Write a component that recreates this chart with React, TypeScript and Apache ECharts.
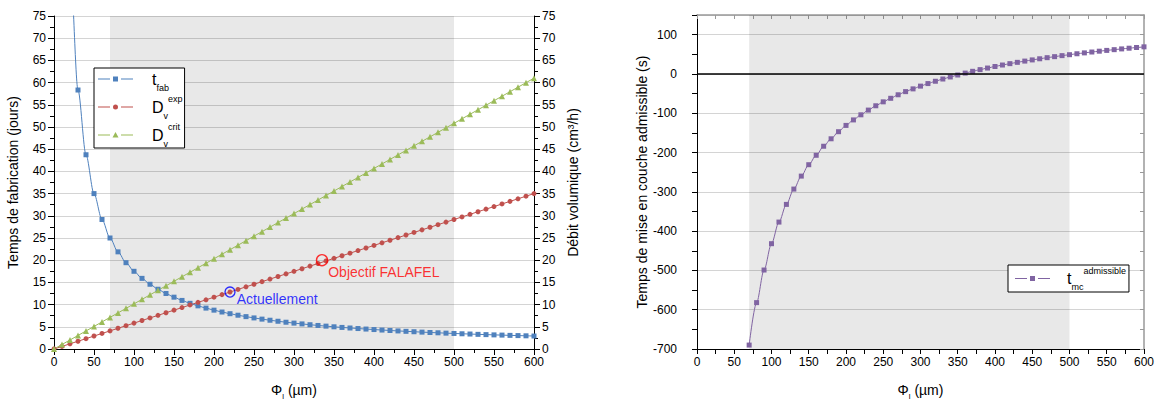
import React, { useEffect, useRef } from 'react';
import * as echarts from 'echarts';

// Φl (µm), step 10
const phi = [0, 10, 20, 30, 40, 50, 60, 70, 80, 90, 100, 110, 120, 130, 140, 150, 160, 170, 180, 190, 200, 210, 220, 230, 240, 250, 260, 270, 280, 290, 300, 310, 320, 330, 340, 350, 360, 370, 380, 390, 400, 410, 420, 430, 440, 450, 460, 470, 480, 490, 500, 510, 520, 530, 540, 550, 560, 570, 580, 590, 600];

// t_fab (jours), for Φl = 10 ... 600
const tFab = [175, 87.5, 58.33, 43.75, 35, 29.17, 25, 21.88, 19.44, 17.5, 15.91, 14.58, 13.46, 12.5, 11.67, 10.94, 10.29, 9.72, 9.21, 8.75, 8.33, 7.95, 7.61, 7.29, 7, 6.73, 6.48, 6.25, 6.03, 5.83, 5.65, 5.47, 5.3, 5.15, 5, 4.86, 4.73, 4.61, 4.49, 4.38, 4.27, 4.17, 4.07, 3.98, 3.89, 3.8, 3.72, 3.65, 3.57, 3.5, 3.43, 3.37, 3.3, 3.24, 3.18, 3.13, 3.07, 3.02, 2.97, 2.92];

// D_v^exp (cm3/h), for Φl = 0 ... 600
const dExp = [0, 0.58, 1.17, 1.75, 2.33, 2.92, 3.5, 4.08, 4.67, 5.25, 5.83, 6.42, 7, 7.58, 8.17, 8.75, 9.33, 9.92, 10.5, 11.08, 11.67, 12.25, 12.83, 13.42, 14, 14.58, 15.17, 15.75, 16.33, 16.92, 17.5, 18.08, 18.67, 19.25, 19.83, 20.42, 21, 21.58, 22.17, 22.75, 23.33, 23.92, 24.5, 25.08, 25.67, 26.25, 26.83, 27.42, 28, 28.58, 29.17, 29.75, 30.33, 30.92, 31.5, 32.08, 32.67, 33.25, 33.83, 34.42, 35];

// D_v^crit (cm3/h), for Φl = 0 ... 600
const dCrit = [0, 1.02, 2.03, 3.05, 4.07, 5.08, 6.1, 7.12, 8.13, 9.15, 10.17, 11.18, 12.2, 13.22, 14.23, 15.25, 16.27, 17.28, 18.3, 19.32, 20.33, 21.35, 22.37, 23.38, 24.4, 25.42, 26.43, 27.45, 28.47, 29.48, 30.5, 31.52, 32.53, 33.55, 34.57, 35.58, 36.6, 37.62, 38.63, 39.65, 40.67, 41.68, 42.7, 43.72, 44.73, 45.75, 46.77, 47.78, 48.8, 49.82, 50.83, 51.85, 52.87, 53.88, 54.9, 55.92, 56.93, 57.95, 58.97, 59.98, 61];

// t_mc^admissible (s), for Φl = 70 ... 600
const tMc = [-690, -582, -499, -432, -377, -332, -293, -260, -231, -207, -184, -165, -147, -131, -117, -104, -92, -81, -71, -62, -53, -45, -38, -31, -24.5, -18.6, -12.9, -7.7, -2.7, 2.2, 6.7, 11, 15, 19, 22.7, 26.2, 29.5, 32.7, 35.7, 38.6, 41.4, 44, 46.6, 49, 51.4, 53.6, 55.8, 57.9, 59.9, 61.8, 63.7, 65.5, 67.3, 69];

// shaded range of Φl
const shadedRange = [70, 500];

// annotated points [Φl, D]
const currentPoint = [220, 12.83];
const targetPoint = [335, 20];

const FONT = 'Arial, "Liberation Sans", sans-serif';

// legend icons: line broken around the marker
const ICON_BOX = 'M0,0L0,0ZM35,9L35,9Z';
const ICON_LINES = 'M0,4H12V5H0ZM23,4H35V5H23Z';
const iconSquare = 'path://' + ICON_BOX + ICON_LINES + 'M15,2H20V7H15Z';
const iconCircle = 'path://' + ICON_BOX + ICON_LINES + 'M15,4.5A2.5,2.5,0,1,0,20,4.5A2.5,2.5,0,1,0,15,4.5Z';
const iconTriangle = 'path://' + ICON_BOX + ICON_LINES + 'M17.5,1.5L20.5,7H14.5Z';

export default function App() {
  const ref = useRef<HTMLDivElement>(null);

  useEffect(() => {
    document.documentElement.style.overflow = 'hidden';
    document.body.style.margin = '0';
    document.body.style.overflow = 'hidden';
    if (!ref.current) return;
    const chart = echarts.init(ref.current, undefined, { renderer: 'svg', width: 1157, height: 405 });

    const fabPhi = phi.slice(1);
    const mcPhi = phi.slice(phi.indexOf(70));

    const tickLabel = { fontSize: 12, color: '#000', fontFamily: FONT };
    const black = { lineStyle: { color: '#000', width: 1 } };
    const nameStyle = { fontSize: 14, color: '#000', fontFamily: FONT };
    const xName = '{a|Φ}{s|l}{a| (µm)}';
    const xNameStyle = {
      ...nameStyle,
      rich: {
        a: { fontSize: 14, fontFamily: FONT, color: '#000', lineHeight: 20 },
        s: { fontSize: 8, fontFamily: FONT, color: '#000', verticalAlign: 'bottom', lineHeight: 10 },
      },
    };

    const legendRich = {
      m: { fontSize: 16, fontFamily: FONT, color: '#000', lineHeight: 26, padding: [0, 0, 0, 14] },
      s: { fontSize: 9, fontFamily: FONT, color: '#000', verticalAlign: 'bottom', lineHeight: 10 },
      p: { fontSize: 9, fontFamily: FONT, color: '#000', verticalAlign: 'top', lineHeight: 14 },
    };
    const legendRich2 = {
      m: { ...legendRich.m, lineHeight: 25, padding: [0, 0, 0, 12] },
      s: legendRich.s,
      p: legendRich.p,
    };

    const legendLabels: Record<string, string> = {
      tfab: '{m|t}{s|fab}',
      dexp: '{m|D}{s|v}{p|exp}',
      dcrit: '{m|D}{s|v}{p|crit}',
      tmc: '{m|t}{s|mc}{p|admissible}',
    };

    const option: any = {
      animation: false,
      textStyle: { fontFamily: FONT },
      grid: [
        { left: 54, top: 16, width: 480, height: 339 },
        { left: 697, top: 15, width: 450, height: 336.5 },
      ],
      legend: [
        {
          data: [
            { name: 'tfab', icon: iconSquare },
            { name: 'dexp', icon: iconCircle },
            { name: 'dcrit', icon: iconTriangle },
          ],
          orient: 'vertical',
          left: 94,
          top: 68,
          padding: [3, 2, 0, 4],
          itemGap: 2,
          itemWidth: 35,
          itemHeight: 9,
          itemStyle: { borderWidth: 0 },
          backgroundColor: '#fff',
          borderColor: '#000',
          borderWidth: 1,
          selectedMode: false,
          formatter: (n: string) => legendLabels[n],
          textStyle: { rich: legendRich },
        },
        {
          data: [{ name: 'tmc', icon: iconSquare }],
          orient: 'vertical',
          left: 1008,
          top: 265,
          padding: [1, 3, 1, 7],
          itemWidth: 35,
          itemHeight: 9,
          itemStyle: { borderWidth: 0 },
          backgroundColor: '#fff',
          borderColor: '#000',
          borderWidth: 1,
          selectedMode: false,
          formatter: (n: string) => legendLabels[n],
          textStyle: { rich: legendRich2 },
        },
      ],
      xAxis: [
        {
          gridIndex: 0, type: 'value', min: 0, max: 600, interval: 50,
          axisLine: { onZero: false, ...black },
          axisTick: { show: true, length: 6, ...black },
          minorTick: { show: true, splitNumber: 2, length: 4, ...black },
          splitLine: { show: false },
          axisLabel: { ...tickLabel, margin: 7 },
          name: xName, nameLocation: 'middle', nameGap: 31, nameTextStyle: xNameStyle,
        },
        {
          gridIndex: 1, type: 'value', min: 0, max: 600, interval: 50,
          axisLine: { onZero: false, ...black },
          axisTick: { show: true, length: 5, ...black },
          minorTick: { show: true, splitNumber: 2, length: 5, ...black },
          splitLine: { show: false },
          axisLabel: { ...tickLabel, margin: 7 },
          name: xName, nameLocation: 'middle', nameGap: 31, nameTextStyle: xNameStyle,
        },
        {
          gridIndex: 1, type: 'value', min: 0, max: 600, interval: 25, position: 'top',
          axisLine: { onZero: false, lineStyle: { color: '#999', width: 1.5 } },
          axisTick: { show: true, inside: true, length: 4, lineStyle: { color: '#999' } },
          splitLine: { show: false },
          axisLabel: { show: false },
        },
      ],
      yAxis: [
        {
          gridIndex: 0, type: 'value', min: 0, max: 75, interval: 5, position: 'left',
          axisLine: { show: true, onZero: false, ...black },
          axisTick: { show: true, length: 6, ...black },
          minorTick: { show: true, splitNumber: 2, length: 4, ...black },
          splitLine: { show: true, lineStyle: { color: '#d4d4d4', width: 1 } },
          axisLabel: { ...tickLabel, margin: 8 },
          name: 'Temps de fabrication (jours)', nameLocation: 'middle', nameGap: 34,
          nameTextStyle: nameStyle,
        },
        {
          gridIndex: 0, type: 'value', min: 0, max: 75, interval: 5, position: 'right',
          axisLine: { show: true, onZero: false, ...black },
          axisTick: { show: true, length: 6, ...black },
          minorTick: { show: true, splitNumber: 2, length: 4, ...black },
          splitLine: { show: false },
          axisLabel: { ...tickLabel, margin: 8 },
          name: 'Débit volumique (cm³/h)', nameLocation: 'middle', nameGap: 32,
          nameRotate: 90,
          nameTextStyle: nameStyle,
        },
        {
          gridIndex: 1, type: 'value', min: -700, max: 150, interval: 100, position: 'left',
          axisLine: { show: true, onZero: false, ...black },
          axisTick: { show: true, length: 5, ...black },
          minorTick: { show: true, splitNumber: 2, length: 5, ...black },
          splitLine: { show: true, lineStyle: { color: '#d4d4d4', width: 1 } },
          axisLabel: { ...tickLabel, margin: 20, showMaxLabel: false },
          name: 'Temps de mise en couche admissible (s)', nameLocation: 'middle', nameGap: 43,
          nameTextStyle: nameStyle,
        },
        {
          gridIndex: 1, type: 'value', min: -700, max: 150, interval: 50, position: 'right',
          axisLine: { show: true, onZero: false, lineStyle: { color: '#999', width: 1.5 } },
          axisTick: { show: true, inside: true, length: 4, lineStyle: { color: '#999' } },
          splitLine: { show: false },
          axisLabel: { show: false },
        },
      ],
      series: [
        {
          name: 'shadeLeft', type: 'line', xAxisIndex: 0, yAxisIndex: 0, data: [], z: 1,
          markArea: {
            silent: true,
            itemStyle: { color: 'rgba(0,0,0,0.09)' },
            data: [[{ xAxis: shadedRange[0] }, { xAxis: shadedRange[1] }]],
          },
        },
        {
          name: 'shadeRight', type: 'line', xAxisIndex: 1, yAxisIndex: 2, data: [], z: 1,
          markArea: {
            silent: true,
            itemStyle: { color: 'rgba(0,0,0,0.09)' },
            data: [[{ xAxis: shadedRange[0] }, { xAxis: shadedRange[1] }]],
          },
          markLine: {
            silent: true,
            symbol: 'none',
            label: { show: false },
            lineStyle: { color: '#000', width: 1.5, type: 'solid' },
            data: [{ yAxis: 0 }],
          },
        },
        {
          name: 'tfab', type: 'line', xAxisIndex: 0, yAxisIndex: 0, z: 3,
          data: fabPhi.map((x, i) => [x, tFab[i]]),
          smooth: 0.3, smoothMonotone: 'x',
          symbol: 'rect', symbolSize: 5,
          itemStyle: { color: '#4f81bd' },
          lineStyle: { color: '#4f81bd', width: 1 },
        },
        {
          name: 'dexp', type: 'line', xAxisIndex: 0, yAxisIndex: 1, z: 3,
          data: phi.map((x, i) => [x, dExp[i]]),
          symbol: 'circle', symbolSize: 5,
          itemStyle: { color: '#c0504d' },
          lineStyle: { color: '#c0504d', width: 1 },
        },
        {
          name: 'dcrit', type: 'line', xAxisIndex: 0, yAxisIndex: 1, z: 3,
          data: phi.map((x, i) => [x, dCrit[i]]),
          symbol: 'triangle', symbolSize: 6,
          itemStyle: { color: '#9bbb59' },
          lineStyle: { color: '#9bbb59', width: 1 },
        },
        {
          name: 'actuel', type: 'scatter', xAxisIndex: 0, yAxisIndex: 1, z: 4,
          data: [currentPoint],
          symbol: 'circle', symbolSize: 10,
          itemStyle: { color: 'rgba(0,0,0,0)', borderColor: '#0000ff', borderWidth: 1.4 },
          label: {
            show: true, position: 'right', distance: 1, offset: [0, 7],
            formatter: 'Actuellement', color: '#0000ff', fontSize: 14, fontFamily: FONT,
          },
        },
        {
          name: 'objectif', type: 'scatter', xAxisIndex: 0, yAxisIndex: 1, z: 4,
          data: [targetPoint],
          symbol: 'circle', symbolSize: 11,
          itemStyle: { color: 'rgba(0,0,0,0)', borderColor: '#ff0000', borderWidth: 1.4 },
          label: {
            show: true, position: 'right', distance: 0, offset: [0, 12],
            formatter: 'Objectif FALAFEL', color: '#ff0000', fontSize: 14, fontFamily: FONT,
          },
        },
        {
          name: 'tmc', type: 'line', xAxisIndex: 1, yAxisIndex: 2, z: 3,
          data: mcPhi.map((x, i) => [x, tMc[i]]),
          smooth: 0.3, smoothMonotone: 'x',
          symbol: 'rect', symbolSize: 5,
          itemStyle: { color: '#8064a2' },
          lineStyle: { color: '#8064a2', width: 1 },
        },
      ],
    };

    chart.setOption(option);
    return () => chart.dispose();
  }, []);

  return (
    <div
      ref={ref}
      style={{ position: 'fixed', left: 0, top: 0, width: 1157, height: 405, background: '#fff' }}
    />
  );
}
